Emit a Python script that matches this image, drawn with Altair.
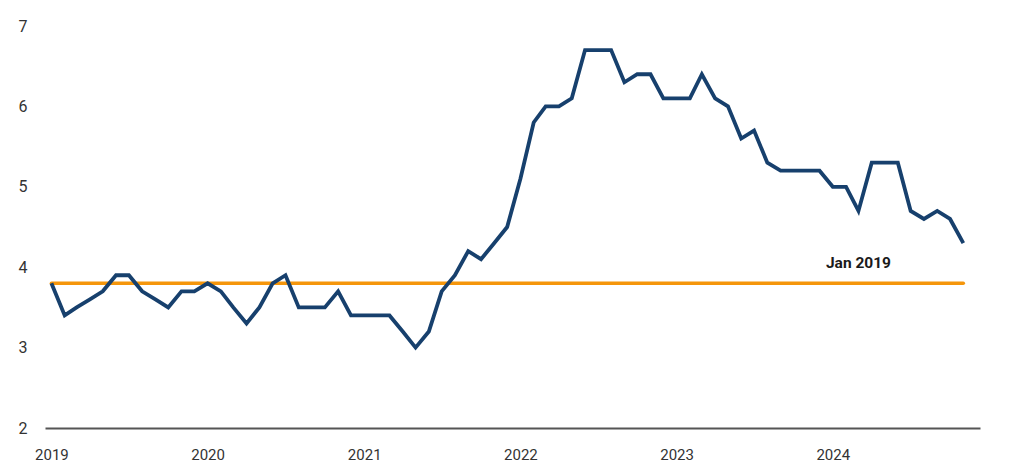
import altair as alt
import pandas as pd

months = pd.date_range("2019-01-01", "2024-11-01", freq="MS").strftime("%Y-%m-%d").tolist()
values = [
    3.8, 3.4, 3.5, 3.6, 3.7, 3.9, 3.9, 3.7, 3.6, 3.5, 3.7, 3.7,   # 2019
    3.8, 3.7, 3.5, 3.3, 3.5, 3.8, 3.9, 3.5, 3.5, 3.5, 3.7, 3.4,   # 2020
    3.4, 3.4, 3.4, 3.2, 3.0, 3.2, 3.7, 3.9, 4.2, 4.1, 4.3, 4.5,   # 2021
    5.1, 5.8, 6.0, 6.0, 6.1, 6.7, 6.7, 6.7, 6.3, 6.4, 6.4, 6.1,   # 2022
    6.1, 6.1, 6.4, 6.1, 6.0, 5.6, 5.7, 5.3, 5.2, 5.2, 5.2, 5.2,   # 2023
    5.0, 5.0, 4.7, 5.3, 5.3, 5.3, 4.7, 4.6, 4.7, 4.6, 4.3,        # 2024
]
baseline_value = 3.8
baseline_label = "Jan 2019"
label_date = "2024-03-01"
year_ticks = ["2019-01-01", "2020-01-01", "2021-01-01", "2022-01-01", "2023-01-01", "2024-01-01"]

df = pd.DataFrame({"date": months, "value": values})
base_df = pd.DataFrame({"date": [months[0], months[-1]], "value": [baseline_value] * 2})
lab_df = pd.DataFrame({"date": [label_date], "value": [baseline_value], "text": [baseline_label]})

FONT = "Roboto"
xscale = alt.Scale(domain=["2018-12-17", "2024-12-10"])
yscale = alt.Scale(domain=[2, 7], nice=False, zero=False)

x_axis = alt.Axis(
    values=year_ticks, format="%Y", labelFontSize=15, labelColor="#333333",
    labelFont=FONT, ticks=False, grid=False, domain=True, domainColor="#555555",
    domainWidth=2, labelPadding=19, title=None, labelAlign="center",
)
y_axis = alt.Axis(
    values=[2, 3, 4, 5, 6, 7], format="d", labelFontSize=16, labelColor="#333333", labelFont=FONT,
    ticks=False, grid=False, domain=False, labelPadding=18, title=None,
)

line = alt.Chart(df).mark_line(color="#17406D", strokeWidth=3.8, strokeJoin="miter").encode(
    x=alt.X("date:T", scale=xscale, axis=x_axis),
    y=alt.Y("value:Q", scale=yscale, axis=y_axis),
)

baseline = alt.Chart(base_df).mark_line(color="#F5960B", strokeWidth=3.5, strokeCap="round").encode(
    x=alt.X("date:T", scale=xscale),
    y=alt.Y("value:Q", scale=yscale),
)

label = alt.Chart(lab_df).mark_text(
    font=FONT, fontSize=15.5, fontWeight="bold", color="#1a1a1a", dy=-20, align="center"
).encode(
    x=alt.X("date:T", scale=xscale),
    y=alt.Y("value:Q", scale=yscale),
    text="text:N",
)

chart = alt.layer(baseline, line, label).properties(
    width=935, height=402,
    autosize=alt.AutoSizeParams(type="none"),
    padding={"left": 45, "top": 26, "right": 44, "bottom": 40},
).configure_view(stroke=None)

chart.save("out.html", embed_options={"renderer": "svg", "actions": False})
